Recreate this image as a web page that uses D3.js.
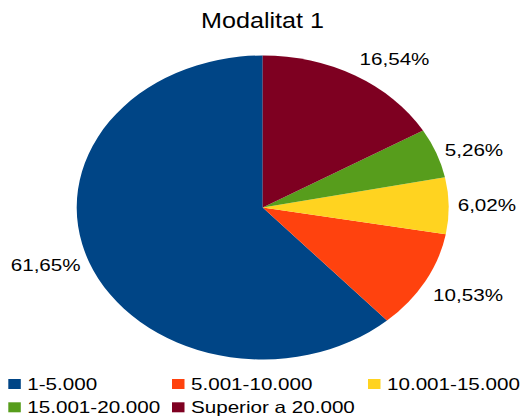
<!DOCTYPE html>
<html>
<head>
<meta charset="utf-8">
<script src="https://cdn.jsdelivr.net/npm/d3@7"></script>
<style>
  html, body { margin: 0; padding: 0; background: #fff; }
  svg { display: block; font-family: "Liberation Sans", Arial, sans-serif; }
</style>
</head>
<body>
<svg id="chart" width="520" height="417"></svg>
<script>
// ---- data ----
const title = "Modalitat 1";
const categories = ["1-5.000", "5.001-10.000", "10.001-15.000", "15.001-20.000", "Superior a 20.000"];
const values = [61.65, 10.53, 6.02, 5.26, 16.54];
const valueLabels = ["61,65%", "10,53%", "6,02%", "5,26%", "16,54%"];
const colors = ["#004586", "#ff420e", "#ffd320", "#579d1c", "#7e0021"];

// ---- layout ----
const W = 520, H = 417;
const cx = 262.7, cy = 207.5;
const ry = 152;              // vertical radius
const sx = 186 / 152;        // horizontal stretch of the whole picture
const fontSize = 16.5;
const textSx = 1.25;

const svg = d3.select("#chart");

// title
svg.append("text")
  .attr("transform", `translate(${262.5},${28}) scale(1.18,1)`)
  .attr("text-anchor", "middle")
  .attr("font-size", 21.3)
  .attr("fill", "#000")
  .text(title);

const data = categories.map((c, i) => ({ cat: c, value: values[i], label: valueLabels[i], color: colors[i] }));

const pie = d3.pie().sort(null).value(d => d.value)
  .startAngle(0).endAngle(-2 * Math.PI);
const arcs = pie(data);

const arc = d3.arc().innerRadius(0).outerRadius(ry);
const edgeArc = d3.arc().innerRadius(ry).outerRadius(ry);

const g = svg.append("g")
  .attr("transform", `translate(${cx},${cy}) scale(${sx},1)`);

g.selectAll("path").data(arcs).join("path")
  .attr("d", arc)
  .attr("fill", d => d.data.color);

// labels, LibreOffice-style sector anchoring
const gap = 9;
const labelG = svg.append("g");
arcs.forEach(a => {
  const mid = (a.startAngle + a.endAngle) / 2;
  let deg = (mid * 180 / Math.PI) % 360;
  if (deg < 0) deg += 360;
  const c = edgeArc.centroid(a); // on circle of radius ry at mid angle
  const px = cx + c[0] * sx, py = cy + c[1];
  const s = Math.sin(mid), co = Math.cos(mid);
  const ax = px + gap * s, ay = py - gap * co;
  const sector = Math.floor(((deg + 22.5) % 360) / 45); // 0..7
  const hAnchor = ["middle", "start", "start", "start", "middle", "end", "end", "end"][sector];
  const vAlign = ["bottom", "bottom", "middle", "top", "top", "top", "middle", "bottom"][sector];
  const dy = vAlign === "bottom" ? -3 : vAlign === "middle" ? 5.9 : 15.3;
  labelG.append("text")
    .attr("transform", `translate(${ax},${ay + dy}) scale(${textSx},1)`)
    .attr("text-anchor", hAnchor)
    .attr("font-size", fontSize)
    .attr("fill", "#000")
    .text(a.data.label);
});

// legend
const colX = [8.3, 172, 368];
const rowY = [390, 413.3];
const legend = svg.append("g");
data.forEach((d, i) => {
  const col = i % 3, row = Math.floor(i / 3);
  legend.append("rect")
    .attr("x", colX[col]).attr("y", rowY[row] - 11)
    .attr("width", 12.5).attr("height", 10)
    .attr("fill", d.color);
  legend.append("text")
    .attr("transform", `translate(${colX[col] + 19},${rowY[row]}) scale(${textSx},1)`)
    .attr("font-size", fontSize)
    .attr("fill", "#000")
    .text(d.cat);
});
</script>
</body>
</html>
